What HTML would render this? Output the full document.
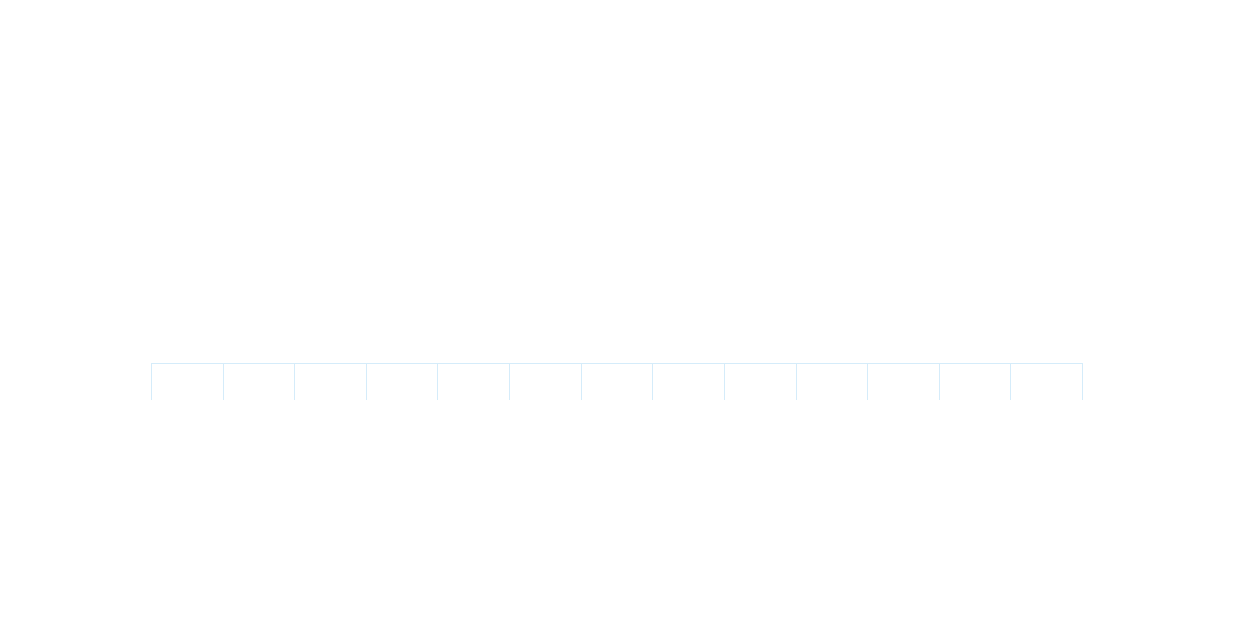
<!DOCTYPE html>
<html lang="en">
<head>
<meta charset="utf-8">
<title>Timeline</title>
<style>
  html, body { margin: 0; padding: 0; background: #ffffff; }
  body { width: 1234px; height: 630px; position: relative; overflow: hidden;
         font-family: "Liberation Sans", sans-serif; }
  .ruler { position: absolute; left: 151px; top: 363px; width: 932px; height: 37px; }
  .ruler .bar { position: absolute; left: 0; top: 0; width: 932px; height: 1px; background: #d5ecfa; }
  .ruler .tick { position: absolute; top: 0; width: 1px; height: 37px; background: #d5ecfa; }
</style>
</head>
<body>
  <div class="ruler">
    <div class="bar"></div>
    <div class="tick" style="left:0px"></div>
    <div class="tick" style="left:72px"></div>
    <div class="tick" style="left:143px"></div>
    <div class="tick" style="left:215px"></div>
    <div class="tick" style="left:286px"></div>
    <div class="tick" style="left:358px"></div>
    <div class="tick" style="left:430px"></div>
    <div class="tick" style="left:501px"></div>
    <div class="tick" style="left:573px"></div>
    <div class="tick" style="left:645px"></div>
    <div class="tick" style="left:716px"></div>
    <div class="tick" style="left:788px"></div>
    <div class="tick" style="left:859px"></div>
    <div class="tick" style="left:931px"></div>
  </div>
</body>
</html>
